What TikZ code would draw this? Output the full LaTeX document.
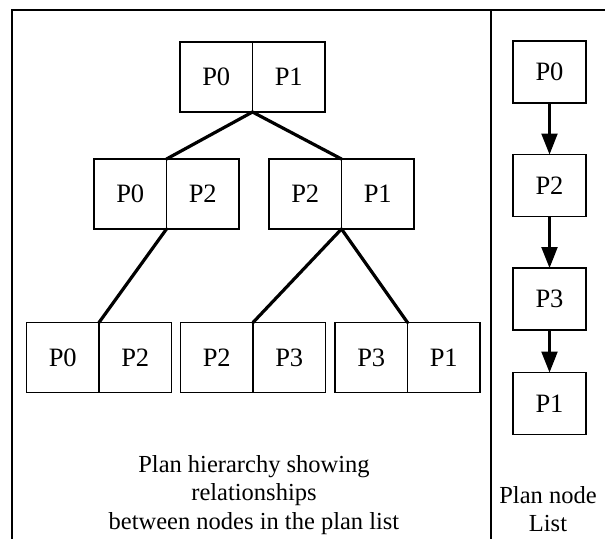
\documentclass[tikz,border=0pt]{standalone}
\usepackage{fontspec}
\setmainfont{Liberation Serif}
\usetikzlibrary{arrows.meta}
\begin{document}
\begin{tikzpicture}[x=1pt,y=-1pt,
  half/.style={draw,line width=1.8pt,minimum width=72.5pt,minimum height=70pt,
    inner sep=0pt,outer sep=0pt,font=\fontsize{26.5}{30}\selectfont},
  listbox/.style={draw,line width=1.8pt,minimum width=73pt,minimum height=62pt,
    inner sep=0pt,outer sep=0pt,font=\fontsize{26.5}{30}\selectfont},
  link/.style={line width=3.2pt,line cap=round},
  next/.style={line width=2.4pt,-{Triangle[length=21pt,width=16pt]}},
  frame/.style={line width=2.4pt},
  caption/.style={align=center,font=\fontsize{24.5}{28.5}\selectfont,inner sep=0pt}]
\useasboundingbox (0,0) rectangle (605,539);

% outer frame and panel divider
\draw[frame] (605,10) -- (12,10) -- (12,539);
\draw[frame] (491,10) -- (491,539);

% plan hierarchy: root
\node[half] (rA) at (216.25,77) {P0};
\node[half] (rB) at (288.75,77) {P1};
% second level
\node[half] (lA) at (130.25,194) {P0};
\node[half] (lB) at (202.75,194) {P2};
\node[half] (mA) at (305.25,194) {P2};
\node[half] (mB) at (377.75,194) {P1};
% leaves
\node[half] (aA) at (62.75,357.5) {P0};
\node[half] (aB) at (135.25,357.5) {P2};
\node[half] (bA) at (216.75,357.5) {P2};
\node[half] (bB) at (289.25,357.5) {P3};
\node[half] (cA) at (371.25,357.5) {P3};
\node[half] (cB) at (443.75,357.5) {P1};

% hierarchy links, divider to divider
\draw[link] (rA.south east) -- (lA.north east);
\draw[link] (rA.south east) -- (mA.north east);
\draw[link] (lA.south east) -- (aA.north east);
\draw[link] (mA.south east) -- (bA.north east);
\draw[link] (mA.south east) -- (cA.north east);

\node[caption] (hcap) at (254,495)
  {Plan hierarchy showing\\relationships\\between nodes in the plan list};

% plan node list
\node[listbox] (n0) at (549.5,72) {P0};
\node[listbox] (n2) at (549.5,185.5) {P2};
\node[listbox] (n3) at (549.5,299) {P3};
\node[listbox] (n1) at (549.5,403.5) {P1};
\draw[next] (n0) -- (n2);
\draw[next] (n2) -- (n3);
\draw[next] (n3) -- (n1);

\node[caption] (lcap) at (548,509) {Plan node\\List};
\end{tikzpicture}
\end{document}
